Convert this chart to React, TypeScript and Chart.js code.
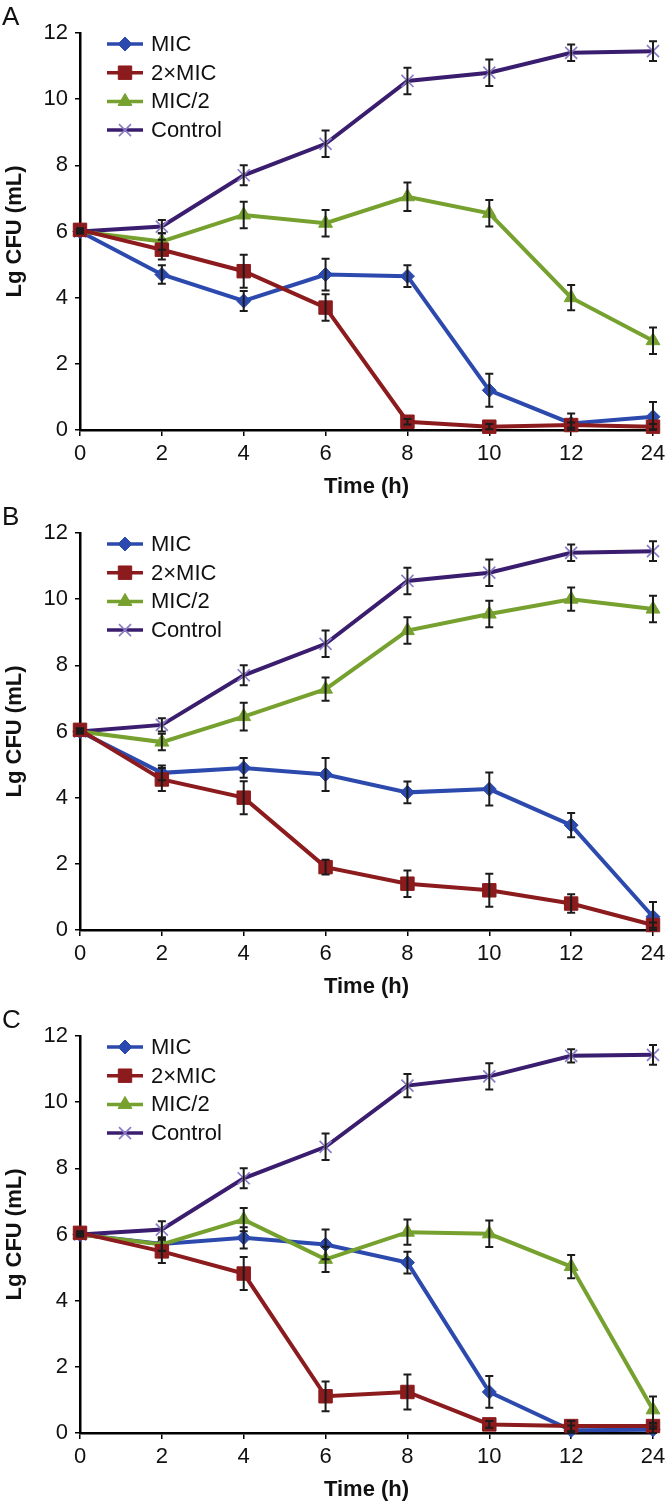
import React, { useEffect, useRef } from 'react';
import { Chart, registerables } from 'chart.js';

Chart.register(...registerables);

// ---------- data ----------
const timeLabels = ['0', '2', '4', '6', '8', '10', '12', '24'];
const seriesNames = ['MIC', '2×MIC', 'MIC/2', 'Control'];
const panelLetters = ['A', 'B', 'C'];

// Panel A
const micA = [6.0, 4.7, 3.9, 4.7, 4.65, 1.2, 0.2, 0.4];
const micAErr = [0.05, 0.28, 0.3, 0.48, 0.33, 0.5, 0.3, 0.45];
const mic2A = [6.05, 5.45, 4.8, 3.7, 0.25, 0.1, 0.15, 0.1];
const mic2AErr = [0.05, 0.3, 0.5, 0.4, 0.08, 0.08, 0.08, 0.08];
const halfA = [6.0, 5.7, 6.5, 6.25, 7.05, 6.55, 4.0, 2.7];
const halfAErr = [0.05, 0.25, 0.4, 0.4, 0.43, 0.4, 0.38, 0.4];
const ctrlA = [6.0, 6.15, 7.7, 8.65, 10.55, 10.8, 11.4, 11.45];
const ctrlAErr = [0.05, 0.2, 0.3, 0.4, 0.4, 0.4, 0.25, 0.3];

// Panel B
const micB = [6.0, 4.75, 4.9, 4.7, 4.16, 4.26, 3.17, 0.4];
const micBErr = [0.05, 0.22, 0.3, 0.5, 0.33, 0.5, 0.37, 0.45];
const mic2B = [6.05, 4.55, 4.0, 1.9, 1.4, 1.2, 0.8, 0.15];
const mic2BErr = [0.05, 0.35, 0.5, 0.22, 0.4, 0.5, 0.28, 0.08];
const halfB = [6.0, 5.68, 6.45, 7.28, 9.05, 9.55, 10.0, 9.7];
const halfBErr = [0.05, 0.25, 0.42, 0.35, 0.4, 0.4, 0.35, 0.4];
const ctrlB = [6.0, 6.2, 7.7, 8.65, 10.55, 10.8, 11.4, 11.45];
const ctrlBErr = [0.05, 0.2, 0.3, 0.4, 0.4, 0.4, 0.25, 0.3];

// Panel C
const micC = [6.0, 5.71, 5.9, 5.7, 5.15, 1.24, 0.08, 0.1];
const micCErr = [0.05, 0.2, 0.32, 0.45, 0.33, 0.48, 0.15, 0.1];
const mic2C = [6.05, 5.49, 4.82, 1.11, 1.24, 0.26, 0.21, 0.21];
const mic2CErr = [0.05, 0.35, 0.5, 0.45, 0.53, 0.1, 0.15, 0.08];
const halfC = [6.0, 5.7, 6.45, 5.25, 6.07, 6.02, 5.03, 0.7];
const halfCErr = [0.05, 0.2, 0.35, 0.38, 0.38, 0.4, 0.35, 0.4];
const ctrlC = [6.0, 6.15, 7.7, 8.65, 10.5, 10.78, 11.4, 11.43];
const ctrlCErr = [0.05, 0.25, 0.3, 0.4, 0.35, 0.4, 0.2, 0.3];

const panelValues = [
  [micA, mic2A, halfA, ctrlA],
  [micB, mic2B, halfB, ctrlB],
  [micC, mic2C, halfC, ctrlC],
];
const panelErrors = [
  [micAErr, mic2AErr, halfAErr, ctrlAErr],
  [micBErr, mic2BErr, halfBErr, ctrlBErr],
  [micCErr, mic2CErr, halfCErr, ctrlCErr],
];
const panelTops = [0, 500, 1003];

// ---------- styles ----------
const FONT = '"Liberation Sans", Arial, Helvetica, sans-serif';
const seriesStyles = [
  { color: '#2C4AAD', style: 'rectRot', radius: 7, fill: '#2C4AAD', stroke: '#2C4AAD', pbw: 1, order: 3 },
  { color: '#8C1B1E', style: 'rect', radius: 9.5, fill: '#8C1B1E', stroke: '#8C1B1E', pbw: 1, order: 1 },
  { color: '#76A12F', style: 'triangle', radius: 8, fill: '#76A12F', stroke: '#76A12F', pbw: 1, order: 2 },
  { color: '#3A1D6E', style: 'crossRot', radius: 8.5, fill: '#8B7CC8', stroke: '#8B7CC8', pbw: 1.7, order: 4 },
];

function drawMarker(ctx: CanvasRenderingContext2D, s: any, x: number, y: number) {
  const r = s.radius;
  ctx.save();
  ctx.fillStyle = s.fill;
  ctx.strokeStyle = s.stroke;
  ctx.lineWidth = s.pbw;
  ctx.beginPath();
  if (s.style === 'rectRot') {
    ctx.moveTo(x, y - r);
    ctx.lineTo(x + r, y);
    ctx.lineTo(x, y + r);
    ctx.lineTo(x - r, y);
    ctx.closePath();
    ctx.fill();
    ctx.stroke();
  } else if (s.style === 'rect') {
    const h = r * Math.SQRT1_2;
    ctx.rect(x - h, y - h, 2 * h, 2 * h);
    ctx.fill();
    ctx.stroke();
  } else if (s.style === 'triangle') {
    let a = 0;
    ctx.moveTo(x + Math.sin(a) * r, y - Math.cos(a) * r);
    a += (2 * Math.PI) / 3;
    ctx.lineTo(x + Math.sin(a) * r, y - Math.cos(a) * r);
    a += (2 * Math.PI) / 3;
    ctx.lineTo(x + Math.sin(a) * r, y - Math.cos(a) * r);
    ctx.closePath();
    ctx.fill();
    ctx.stroke();
  } else {
    const o = r * Math.SQRT1_2;
    ctx.moveTo(x - o, y - o);
    ctx.lineTo(x + o, y + o);
    ctx.moveTo(x + o, y - o);
    ctx.lineTo(x - o, y + o);
    ctx.stroke();
  }
  ctx.restore();
}

function Panel({ index }: { index: number }) {
  const ref = useRef<HTMLCanvasElement>(null);

  useEffect(() => {
    const values = panelValues[index];
    const errors = panelErrors[index];
    const letter = panelLetters[index];

    const errorBarPlugin = {
      id: 'errorBars',
      afterDatasetsDraw(chart: any) {
        const ctx = chart.ctx;
        const yScale = chart.scales.y;
        ctx.save();
        ctx.strokeStyle = '#1b1b1b';
        ctx.lineWidth = 2;
        values.forEach((series, di) => {
          const meta = chart.getDatasetMeta(di);
          series.forEach((v, pi) => {
            const e = errors[di][pi];
            const pt = meta.data[pi];
            if (!pt) return;
            const x = pt.x;
            const yt = yScale.getPixelForValue(v + e);
            const yb = yScale.getPixelForValue(Math.max(0, v - e));
            ctx.beginPath();
            ctx.moveTo(x, yt);
            ctx.lineTo(x, yb);
            ctx.moveTo(x - 4, yt);
            ctx.lineTo(x + 4, yt);
            ctx.moveTo(x - 4, yb);
            ctx.lineTo(x + 4, yb);
            ctx.stroke();
          });
        });
        ctx.restore();
      },
    };

    const legendPlugin = {
      id: 'customLegend',
      afterDraw(chart: any) {
        const ctx = chart.ctx;
        const area = chart.chartArea;
        const x0 = area.left + 27;
        const y0 = area.top + 11;
        const step = 28.7;
        ctx.save();
        seriesNames.forEach((name, i) => {
          const s = seriesStyles[i];
          const y = y0 + i * step;
          ctx.strokeStyle = s.color;
          ctx.lineWidth = 3.5;
          ctx.beginPath();
          ctx.moveTo(x0, y);
          ctx.lineTo(x0 + 36, y);
          ctx.stroke();
          drawMarker(ctx, s, x0 + 18, y);
          ctx.fillStyle = '#111';
          ctx.font = `22px ${FONT}`;
          ctx.textAlign = 'left';
          ctx.textBaseline = 'middle';
          ctx.fillText(name, x0 + 44, y + 1);
        });
        ctx.fillStyle = '#111';
        ctx.font = `26px ${FONT}`;
        ctx.textAlign = 'left';
        ctx.textBaseline = 'alphabetic';
        ctx.fillText(letter, 2, 25);
        ctx.restore();
      },
    };

    const chart = new Chart(ref.current as HTMLCanvasElement, {
      type: 'line',
      data: {
        labels: timeLabels,
        datasets: values.map((v, i) => {
          const s = seriesStyles[i];
          return {
            label: seriesNames[i],
            data: v,
            borderColor: s.color,
            backgroundColor: s.fill,
            borderWidth: 4,
            pointStyle: s.style as any,
            pointRadius: s.radius,
            pointBackgroundColor: s.fill,
            pointBorderColor: s.stroke,
            pointBorderWidth: s.pbw,
            order: s.order,
            tension: 0,
            clip: false as any,
          };
        }),
      },
      options: {
        responsive: false,
        animation: false,
        devicePixelRatio: 1,
        events: [],
        layout: { padding: { top: 33, right: 19, left: 0, bottom: 0 } },
        plugins: {
          legend: { display: false },
          tooltip: { enabled: false },
        },
        scales: {
          x: {
            type: 'category',
            offset: false,
            grid: {
              display: true,
              drawOnChartArea: false,
              drawTicks: true,
              tickLength: 6,
              tickColor: '#000',
              lineWidth: 1.5,
            },
            border: { display: true, color: '#000', width: 2.5 },
            ticks: {
              color: '#111',
              font: { family: FONT, size: 22 },
              padding: 5,
              maxRotation: 0,
              autoSkip: false,
            },
            title: {
              display: true,
              text: 'Time (h)',
              color: '#111',
              font: { family: FONT, size: 22, weight: 'bold' },
              padding: { top: 0, bottom: 0 },
            },
            afterFit: (s: any) => {
              s.height = 70;
            },
          },
          y: {
            min: 0,
            max: 12,
            grid: {
              display: true,
              drawOnChartArea: false,
              drawTicks: true,
              tickLength: 5,
              tickColor: '#000',
              lineWidth: 1.5,
            },
            border: { display: true, color: '#000', width: 2.5 },
            ticks: {
              stepSize: 2,
              color: '#111',
              font: { family: FONT, size: 22 },
              padding: 7,
            },
            title: {
              display: true,
              text: 'Lg CFU (mL)',
              color: '#111',
              font: { family: FONT, size: 22, weight: 'bold' },
              padding: { top: 2, bottom: 0 },
            },
            afterFit: (s: any) => {
              s.width = 80;
            },
          },
        },
      },
      plugins: [errorBarPlugin, legendPlugin],
    });
    return () => chart.destroy();
  }, [index]);

  return (
    <canvas
      ref={ref}
      width={672}
      height={500}
      style={{ position: 'absolute', left: 0, top: panelTops[index], width: 672, height: 500, display: 'block' }}
    />
  );
}

export default function App() {
  return (
    <div style={{ position: 'absolute', left: 0, top: 0, width: 672, height: 1508, background: '#fff' }}>
      {panelLetters.map((_, i) => (
        <Panel key={i} index={i} />
      ))}
    </div>
  );
}
